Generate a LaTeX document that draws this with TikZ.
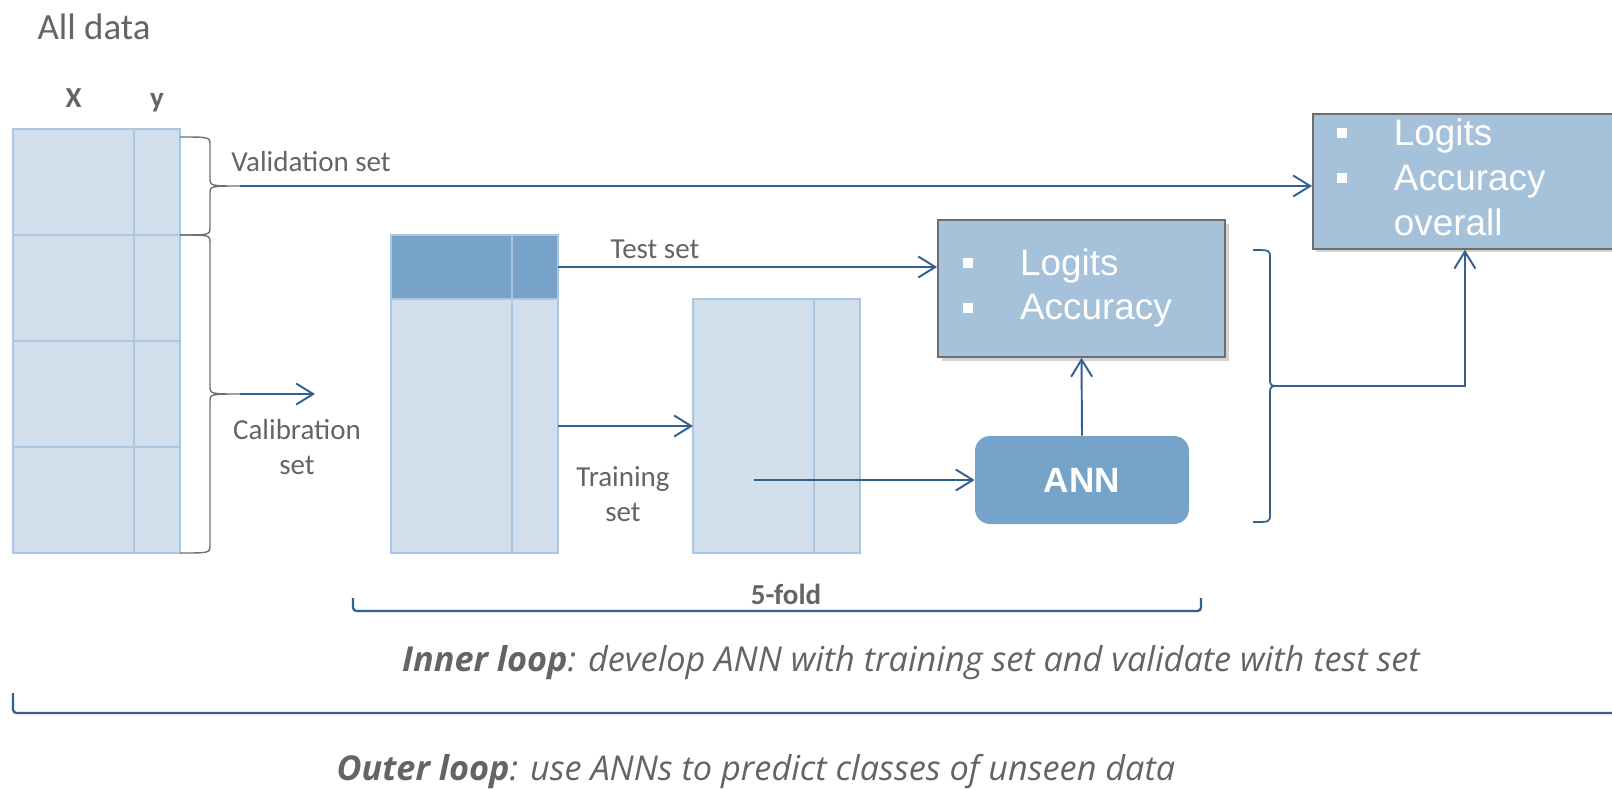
\documentclass[tikz,border=0pt]{standalone}
\usepackage{fontspec}
\setmainfont{Carlito}
\newfontfamily\arialfont{Liberation Sans}
\newfontfamily\loopfont{Open Sans}
\usepackage{tikz}
\usetikzlibrary{
  arrows.meta,
  calc,
  positioning,
  shadows
}
\definecolor{celllight}{RGB}{209,223,236}
\definecolor{cellline}{RGB}{170,198,224}
\definecolor{celldark}{RGB}{118,162,200}
\definecolor{boxblue}{RGB}{166,194,218}
\definecolor{boxline}{RGB}{110,110,110}
\definecolor{annblue}{RGB}{118,163,201}
\definecolor{arrblue}{RGB}{50,96,143}
\definecolor{textgray}{RGB}{100,100,100}
\newcommand{\blt}{\rule[0.14cm]{0.2cm}{0.2cm}}
% side brace: style, top end, bottom end, spine offset, tip offset, tip name
\newcommand{\sidebrace}[6]{%
  \draw[#1] let \p1=#2, \p2=#3, \p3=($#2!0.5!#3$) in
    (\p1) .. controls (\x1+#4,\y1) .. (\x1+#4,\y1-0.16cm)
    -- (\x1+#4,\y3+0.16cm) .. controls (\x1+#4,\y3) .. (\x1+#5,\y3) coordinate (#6)
    .. controls (\x1+#4,\y3) .. (\x1+#4,\y3-0.16cm)
    -- (\x1+#4,\y2+0.16cm) .. controls (\x1+#4,\y2) .. (\p2);
}

\begin{document}
\begin{tikzpicture}[
  xcell/.style={draw=cellline, fill=celllight, line width=0.6pt, minimum width=2.42cm,
                inner sep=0pt, outer sep=0pt},
  ycell/.style={xcell, minimum width=0.92cm},
  resbox/.style={draw=boxline, fill=boxblue, line width=1pt, text=white,
                 font=\arialfont\fontsize{21}{25.6}\selectfont, align=left,
                 drop shadow={shadow xshift=2pt, shadow yshift=-2pt, opacity=0.35}},
  arr/.style={-{Straight Barb[length=3.4mm, width=4.2mm]}, line width=1.1pt, arrblue},
  lbl/.style={text=textgray, font=\fontsize{16.5}{19.8}\selectfont, align=center},
  looplbl/.style={text=textgray, font=\loopfont\itshape\fontsize{19.5}{23}\selectfont},
  gbrace/.style={draw=boxline, line width=0.8pt},
  bbrace/.style={draw=arrblue, line width=1pt},
  bline/.style={draw=arrblue, line width=1.3pt, rounded corners=2pt}
]
  \useasboundingbox (0,0) rectangle (32.24,-15.78);

  % All data
  \node[lbl, font=\fontsize{21}{25}\selectfont] (alldata) at (1.88,-0.54) {All data};

  % Data table
  \node[xcell, minimum height=2.12cm, anchor=north west] (x1) at (0.26,-2.58) {};
  \node[xcell, minimum height=2.12cm, below=0pt of x1] (x2) {};
  \node[xcell, minimum height=2.12cm, below=0pt of x2] (x3) {};
  \node[xcell, minimum height=2.12cm, below=0pt of x3] (x4) {};
  \node[ycell, minimum height=2.12cm, right=0pt of x1] (y1) {};
  \node[ycell, minimum height=2.12cm, right=0pt of x2] (y2) {};
  \node[ycell, minimum height=2.12cm, right=0pt of x3] (y3) {};
  \node[ycell, minimum height=2.12cm, right=0pt of x4] (y4) {};
  \node[lbl, font=\fontsize{16.5}{19.8}\selectfont\bfseries, anchor=base] (xlbl)
    at ([yshift=0.44cm]x1.north) {X};
  \node[lbl, font=\fontsize{16.5}{19.8}\selectfont\bfseries, anchor=base] (ylbl)
    at ([yshift=0.44cm]y1.north) {y};

  % Braces on the data
  \sidebrace{gbrace}{([yshift=-0.16cm]y1.north east)}{(y2.north east)}{0.6cm}{1.2cm}{vtip}
  \sidebrace{gbrace}{(y2.north east)}{(y4.south east)}{0.6cm}{1.2cm}{ctip}
  \node[lbl] (vallbl) at (6.22,-3.24) {Validation set};
  \node[lbl] (callbl) at (5.94,-8.94) {Calibration\\set};
  \coordinate[right=1.5cm of ctip] (calend);

  % Calibration table
  \node[xcell, fill=celldark, minimum height=1.28cm, anchor=north west] (cxh) at (7.82,-4.70) {};
  \node[ycell, fill=celldark, minimum height=1.28cm, right=0pt of cxh] (cyh) {};
  \node[xcell, minimum height=5.08cm, below=0pt of cxh] (cx) {};
  \node[ycell, minimum height=5.08cm, right=0pt of cx] (cy) {};
  \node[lbl] (testlbl) at (13.10,-4.98) {Test set};
  \node[lbl] (trainlbl) at (12.46,-9.88) {Training\\set};

  % Training table
  \node[xcell, minimum height=5.08cm, anchor=north west] (tx) at (13.86,-5.98) {};
  \node[ycell, minimum height=5.08cm, right=0pt of tx] (ty) {};
  \coordinate (trsrc) at (15.08,-9.60);

  % Results
  \node[resbox, minimum width=5.74cm, minimum height=2.74cm, text width=4.74cm,
        inner xsep=0.5cm] (res) at (21.63,-5.77)
    {\begin{tabular}{@{}p{1.14cm}@{}l@{}}\blt & Logits\\ \blt & Accuracy\end{tabular}};
  \node[fill=annblue, rounded corners=0.3cm, minimum width=4.28cm, minimum height=1.76cm,
        text=white, font=\arialfont\bfseries\fontsize{20}{24}\selectfont] (ann) at (21.64,-9.60) {ANN};
  \node[resbox, minimum width=6.08cm, minimum height=2.70cm, text width=5.12cm,
        inner xsep=0.48cm, inner ysep=0pt, anchor=north west] (final) at (26.24,-2.26)
    {\begin{tabular}{@{}p{1.14cm}@{}l@{}}\blt & Logits\\ \blt & Accuracy\\ & overall\end{tabular}};

  \sidebrace{bbrace}{(25.06,-5.00)}{(25.06,-10.44)}{0.34cm}{0.58cm}{ftip}

  % Arrows
  \draw[arr] (vtip) -- (vtip -| final.west);
  \draw[arr] (ctip) -- (calend);
  \draw[arr] (cyh.east) -- (cyh.east -| res.west);
  \draw[arr] (cy.east) -- (tx.west);
  \draw[arr] (trsrc) -- (ann.west);
  \draw[arr] (ann.north) -- (res.south);
  \draw[arr] (ftip) -| (final.south);

  % Loops
  \draw[bline] (7.06,-11.96) -- (7.06,-12.22) -- (24.02,-12.22) -- (24.02,-11.96);
  \node[lbl, font=\fontsize{16.5}{19.8}\selectfont\bfseries] (fold) at (15.72,-11.88) {5-fold};
  \node[looplbl] (inner) at (18.22,-13.26)
    {\textbf{Inner loop}: develop ANN with training set and validate with test set};
  \draw[bline] (0.26,-13.86) -- (0.26,-14.26) -- (33.00,-14.26);
  \node[looplbl] (outer) at (15.12,-15.42)
    {\textbf{Outer loop}: use ANNs to predict classes of unseen data};
\end{tikzpicture}
\end{document}
